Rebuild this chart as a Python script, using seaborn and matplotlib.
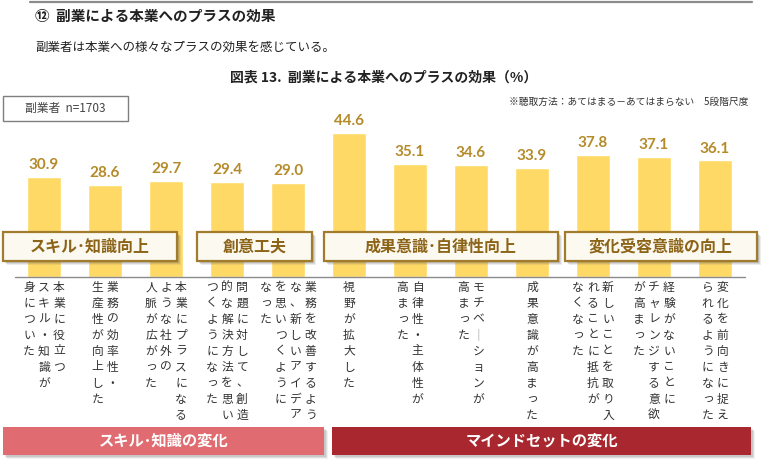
import matplotlib
matplotlib.use("Agg")
import matplotlib.pyplot as plt
import seaborn as sns
import pandas as pd
from matplotlib.patches import Rectangle
from matplotlib.lines import Line2D

sns.set_theme(style="white")
plt.rcParams['font.family'] = ['Noto Sans CJK JP', 'DejaVu Sans']

# ---------------- data ----------------
categories = [
    "本業に役立つスキル・知識が身についた",
    "業務の効率性・生産性が向上した",
    "本業にプラスになるような社外の人脈が広がった",
    "問題に対して、創造的な解決方法を思いつくようになった",
    "業務を改善するような、新しいアイデアを思いつくようになった",
    "視野が拡大した",
    "自律性・主体性が高まった",
    "モチベーションが高まった",
    "成果意識が高まった",
    "新しいことを取り入れることに抵抗がなくなった",
    "経験がないことにチャレンジする意欲が高まった",
    "変化を前向きに捉えられるようになった",
]
values = [30.9, 28.6, 29.7, 29.4, 29.0, 44.6, 35.1, 34.6, 33.9, 37.8, 37.1, 36.1]

# vertical tick labels, columns read right-to-left
label_columns = [
    ["本業に役立つ", "スキル・知識が", "身についた"],
    ["業務の効率性・", "生産性が向上した"],
    ["本業にプラスになる", "ような社外の", "人脈が広がった"],
    ["問題に対して、創造", "的な解決方法を思い", "つくようになった"],
    ["業務を改善するよう", "な、新しいアイデア", "を思いつくように", "なった"],
    ["視野が拡大した"],
    ["自律性・主体性が", "高まった"],
    ["モチベ｜ションが", "高まった"],
    ["成果意識が高まった"],
    ["新しいことを取り入", "れることに抵抗が", "なくなった"],
    ["経験がないことに", "チャレンジする意欲", "が高まった"],
    ["変化を前向きに捉え", "られるようになった"],
]

top_groups = ["スキル･知識向上", "創意工夫", "成果意識･自律性向上", "変化受容意識の向上"]
bottom_groups = ["スキル･知識の変化", "マインドセットの変化"]

main_heading = "⑫  副業による本業へのプラスの効果"
subtitle = "副業者は本業への様々なプラスの効果を感じている。"
chart_title = "図表 13.  副業による本業へのプラスの効果（%）"
sample_text = "副業者  n=1703"
note_text = "※聴取方法：あてはまる－あてはまらない　5段階尺度"

# ---------------- layout ----------------
W, H = 767, 474
fig = plt.figure(figsize=(W / 100, H / 100), dpi=100)
fig.patch.set_facecolor("white")

def fx(x):
    return x / W

def fy(y):
    return 1 - y / H

base_y = 277
top_y = 97
ax = fig.add_axes([0, fy(base_y), 1, (base_y - top_y) / H])
df = pd.DataFrame({"cat": categories, "val": values})
sns.barplot(data=df, x="cat", y="val", order=categories, color="#FFD966",
            saturation=1, width=0.557, ax=ax)
ax.set_xlim(-44 / 61, (W - 44) / 61)
ax.set_ylim(0, (base_y - top_y) / 3.23)
ax.axis("off")
ax.bar_label(ax.containers[0], fmt="%.1f", padding=3.5, color="#B58B2A",
             fontsize=11, fontweight="bold", family=["Lato", "DejaVu Sans"])

# baseline
fig.add_artist(Line2D([fx(15), fx(745)], [fy(base_y), fy(base_y)],
                      color="#8a8a8a", lw=1.0, zorder=2))

# header
fig.add_artist(Line2D([fx(30), fx(752)], [fy(2), fy(2)], color="#8c8c8c", lw=1.6))
fig.text(fx(35), fy(16), main_heading, fontsize=10.5, fontweight="bold",
         color="#222222", va="center", ha="left")
fig.text(fx(35), fy(47), subtitle, fontsize=9, color="#222222",
         va="center", ha="left")
fig.text(fx(384), fy(78), chart_title, fontsize=10, fontweight="bold",
         color="#222222", va="center", ha="center")
fig.add_artist(Rectangle((fx(3), fy(121)), fx(125), (121 - 96) / H,
                         facecolor="white", edgecolor="#7f7f7f", lw=1.0))
fig.text(fx(65), fy(108.5), sample_text, fontsize=8.5, color="#444444",
         va="center", ha="center")
fig.text(fx(748), fy(102), note_text, fontsize=7, color="#333333",
         va="center", ha="right")

# bar centre pixels
fig.canvas.draw()
centers = [ax.transData.transform((i, 0))[0] for i in range(len(values))]

# vertical labels
col_step = 15
row_step = 16
first_row = 287
for cx, cols in zip(centers, label_columns):
    n = len(cols)
    for k, col in enumerate(cols):
        x = cx + (n - 1) / 2 * col_step - k * col_step
        for r, ch in enumerate(col):
            y = first_row + r * row_step
            color = "#333333"
            if ch == "｜":
                color = "#888888"
            fig.text(fx(x), fy(y), ch, fontsize=8.5, color=color,
                     ha="center", va="center")

# top banners
top_spans = [(3, 177), (197, 312), (324, 558), (565, 757)]
for (x0, x1), name in zip(top_spans, top_groups):
    y0, y1 = 232, 261
    for off, a in [(4, 0.10), (3, 0.15), (2, 0.2)]:
        fig.add_artist(Rectangle((fx(x0 + off), fy(y1 + off)), fx(x1 - x0), (y1 - y0) / H,
                                 facecolor="#555555", edgecolor="none", alpha=a, zorder=3))
    fig.add_artist(Rectangle((fx(x0), fy(y1)), fx(x1 - x0), (y1 - y0) / H,
                             facecolor="#FCF9F1", edgecolor="#A07C2C", lw=1.6, zorder=3.1))
    fig.text(fx((x0 + x1) / 2), fy((y0 + y1) / 2), name, fontsize=11.5,
             fontweight="bold", color="#8C6418", ha="center", va="center", zorder=4)

# bottom banners
bottom_spans = [(3, 324), (332, 751)]
bottom_colors = ["#E06C72", "#A9272E"]
for (x0, x1), name, c in zip(bottom_spans, bottom_groups, bottom_colors):
    y0, y1 = 427, 455
    for off, a in [(4, 0.08), (3, 0.12), (2, 0.16)]:
        fig.add_artist(Rectangle((fx(x0 + off), fy(y1 + off)), fx(x1 - x0), (y1 - y0) / H,
                                 facecolor="#555555", edgecolor="none", alpha=a, zorder=3))
    fig.add_artist(Rectangle((fx(x0), fy(y1)), fx(x1 - x0), (y1 - y0) / H,
                             facecolor=c, edgecolor="none", zorder=3.1))
    fig.text(fx((x0 + x1) / 2), fy((y0 + y1) / 2), name, fontsize=11,
             fontweight="bold", color="white", ha="center", va="center", zorder=4)

fig.savefig("out.png", dpi=100, facecolor="white")
